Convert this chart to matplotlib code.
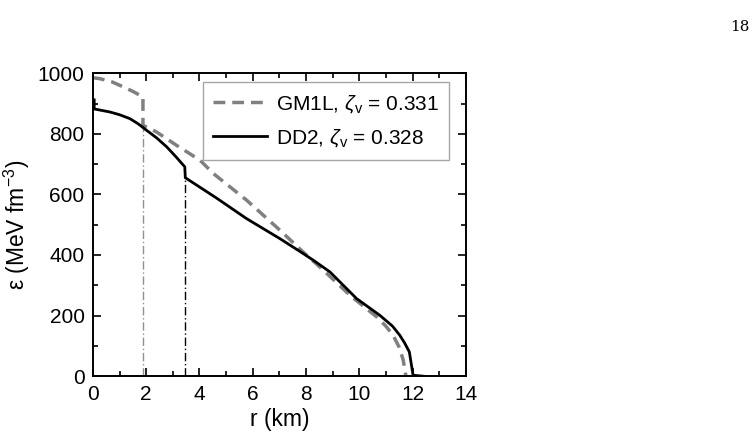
import matplotlib
matplotlib.use("Agg")
import matplotlib.pyplot as plt
from matplotlib.ticker import MultipleLocator

plt.rcParams['font.family'] = ['Liberation Sans', 'DejaVu Sans']
plt.rcParams['mathtext.fontset'] = 'custom'
plt.rcParams['mathtext.rm'] = 'Liberation Sans'
plt.rcParams['mathtext.it'] = 'Liberation Sans:italic'

# GM1L energy density profile (dashed gray)
r_gm1l = [0, 0.26, 0.7, 1.14, 1.5, 1.88, 1.88, 2.39, 3.14, 4.02, 4.52, 5.77,
          7.02, 7.89, 8.65, 9.65, 10.65, 11.0, 11.27, 11.5, 11.65, 11.75]
eps_gm1l = [985, 982, 972, 955, 940, 922, 828, 806, 762, 713, 669, 581,
            482, 410, 350, 267, 196, 165, 135, 95, 53, 0]

# DD2 energy density profile (solid black)
r_dd2 = [0.05, 0.05, 0.64, 1.0, 1.39, 1.7, 2.01, 2.4, 2.77, 3.1, 3.45, 3.47,
         4.64, 5.77, 7.02, 7.89, 8.27, 8.9, 9.15, 9.9, 10.77, 11.25, 11.52,
         11.7, 11.88, 12.02, 12.4]
eps_dd2 = [912, 882, 872, 863, 850, 833, 812, 786, 757, 726, 691, 655,
           588, 520, 454, 405, 383, 344, 322, 256, 201, 165, 135,
           110, 80, 3, 0]

# phase boundaries (dash-dot verticals)
r_core = [1.88, 3.47]
eps_core = [828, 655]
core_colors = ['#909090', 'black']

fig = plt.figure(figsize=(7.55, 4.41), dpi=100)
ax = fig.add_axes([0.123, 0.147, 0.494, 0.687])

for rc, ec, c in zip(r_core, eps_core, core_colors):
    ax.plot([rc, rc], [0, ec], color=c, lw=1.0, ls=(0, (6, 2, 1, 2)))

ax.plot(r_gm1l, eps_gm1l, color='#808080', lw=2.5, ls=(0, (3.4, 2.0)),
        label=r'GM1L, $\zeta_{\rm v}$ = 0.331')
ax.plot(r_dd2, eps_dd2, color='black', lw=2.0,
        label=r'DD2, $\zeta_{\rm v}$ = 0.328')

ax.set_xlim(0, 14)
ax.set_ylim(0, 1000)
ax.xaxis.set_major_locator(MultipleLocator(2))
ax.xaxis.set_minor_locator(MultipleLocator(1))
ax.yaxis.set_major_locator(MultipleLocator(200))
ax.yaxis.set_minor_locator(MultipleLocator(100))
ax.tick_params(which='both', direction='in', top=True, right=True,
               labelsize=15, width=1.2)
ax.tick_params(axis='x', pad=6)
ax.tick_params(axis='y', pad=6)
ax.tick_params(which='major', length=6)
ax.tick_params(which='minor', length=3.5)
for s in ax.spines.values():
    s.set_linewidth(1.4)

ax.set_xlabel('r (km)', fontsize=16.5, labelpad=3)
ax.set_ylabel('ε (MeV fm$^{\\mathrm{-3}}$)', fontsize=16.5, labelpad=4)

leg = ax.legend(loc='upper right', bbox_to_anchor=(0.955, 0.97), fontsize=15,
                frameon=True, fancybox=False, handlelength=2.6,
                borderpad=0.5, labelspacing=0.6, handletextpad=0.4,
                borderaxespad=0)
leg.get_frame().set_edgecolor('#909090')
leg.get_frame().set_linewidth(1.0)

fig.text(0.993, 0.93, '18', family='DejaVu Serif', fontsize=11, ha='right')

fig.savefig('out.png', dpi=100)
